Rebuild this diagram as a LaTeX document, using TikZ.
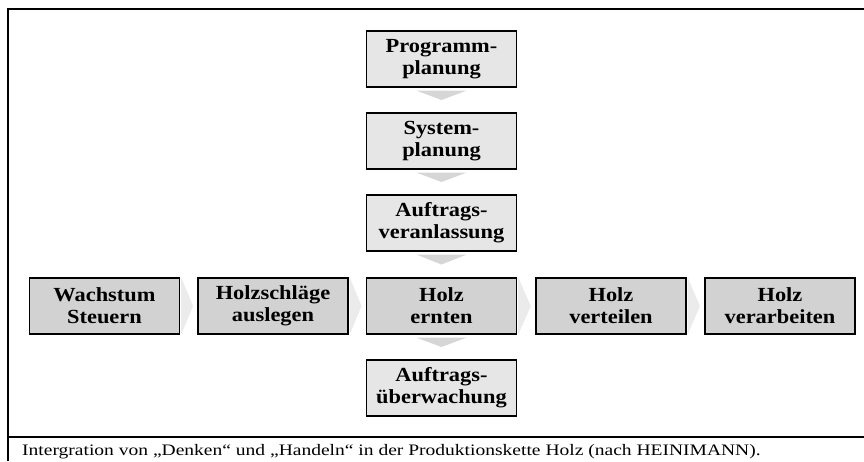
\documentclass[tikz,border=0pt]{standalone}
\usepackage{fontspec}
\setmainfont{Liberation Serif}
\newfontfamily\boxfont[FakeStretch=1.12]{Liberation Serif}
\newfontfamily\capfont[FakeStretch=1.22]{Liberation Serif}
\usetikzlibrary{calc}
\definecolor{boxlight}{HTML}{E6E6E6}
\definecolor{boxdark}{HTML}{D2D2D2}
\definecolor{tridown}{HTML}{D6D6D6}
\definecolor{chev}{HTML}{EBEBEB}
\tikzset{
  stage/.style={draw=black,line width=1.3pt,minimum width=150pt,minimum height=56pt,
    inner sep=2pt,align=center,font=\boxfont\fontsize{20}{22}\selectfont\bfseries},
  plan/.style={stage,fill=boxlight},
  work/.style={stage,fill=boxdark},
  frameline/.style={line width=1.1pt,black}
}
\begin{document}
\begin{tikzpicture}[x=1pt,y=-1pt]
\useasboundingbox (0,0) rectangle (864,461);
\draw[frameline] (8,461)--(8,9)--(864,9);
\draw[frameline] (8,437)--(864,437);
% Denken
\node[plan] (prog) at (441.5,59) {Programm-\\planung};
\node[plan] (sys) at (441.5,141) {System-\\planung};
\node[plan] (veranl) at (441.5,223) {Auftrags-\\veranlassung};
% Handeln
\node[work] (wachs) at (104.5,306) {Wachstum\\Steuern};
\node[work] (schlag) at (273,306) {Holzschläge\\auslegen};
\node[work] (ernte) at (441.5,306) {Holz\\ernten};
\node[work] (vert) at (611,306) {Holz\\verteilen};
\node[work] (verarb) at (780,306) {Holz\\verarbeiten};
\node[plan] (ueberw) at (441.5,388) {Auftrags-\\überwachung};
% down arrows
\foreach \a/\b in {prog/sys,sys/veranl,veranl/ernte,ernte/ueberw}
  \fill[tridown] ([xshift=-25pt,yshift=-3pt]\a.south)--([xshift=25pt,yshift=-3pt]\a.south)
    --($(\a.south)!0.5!(\b.north)$)--cycle;
% chain arrows
\foreach \a/\b in {wachs/schlag,schlag/ernte,ernte/vert,vert/verarb}
  \fill[chev] ([xshift=1pt]\a.north east)--([xshift=1pt]\a.south east)
    --($(\a.east)!0.75!(\b.west)$)--cycle;
\node[anchor=base west,inner sep=0pt,font=\capfont\fontsize{16}{18}\selectfont] (cap) at (22,455)
  {Intergration von „Denken“ und „Handeln“ in der Produktionskette Holz (nach HEINIMANN).};
\end{tikzpicture}
\end{document}
